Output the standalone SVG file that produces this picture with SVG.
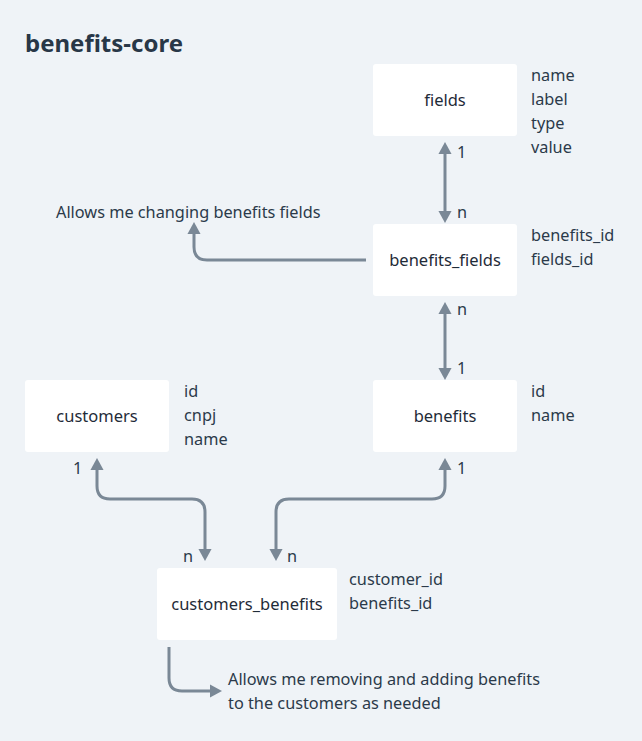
<svg xmlns="http://www.w3.org/2000/svg" width="642" height="741" viewBox="0 0 642 741">
<style>
.bg{fill:#eff3f7}
.box{fill:#ffffff}
.t{font-family:"Noto Sans","Open Sans",sans-serif;font-size:16.5px;fill:#1f2b38}
.c{text-anchor:middle}
.a{font-family:"Noto Sans","Open Sans",sans-serif;font-size:16.3px;fill:#2b3a4a}
.title{font-family:"Noto Sans","Open Sans",sans-serif;font-size:24px;font-weight:bold;fill:#283747}
.ln{fill:none;stroke:#7a8896;stroke-width:3}
</style>
<defs>
<marker id="ah" markerUnits="userSpaceOnUse" markerWidth="12" markerHeight="14" refX="0" refY="6" orient="auto-start-reverse" viewBox="0 0 11 12">
<path d="M0,0 L11,6 L0,12 z" fill="#7a8896"/>
</marker>
</defs>
<rect class="bg" x="0" y="0" width="642" height="741"/>
<text class="title" x="25" y="52">benefits-core</text>

<g id="fields">
<rect class="box" x="373" y="64" width="144" height="72" rx="3"/>
<text class="t c" x="445" y="106">fields</text>
<text class="a" x="531" y="81">name</text>
<text class="a" x="531" y="105">label</text>
<text class="a" x="531" y="129">type</text>
<text class="a" x="531" y="153">value</text>
</g>

<g id="benefits_fields">
<rect class="box" x="373" y="224" width="144" height="72" rx="3"/>
<text class="t c" x="445" y="266">benefits_fields</text>
<text class="a" x="531" y="241">benefits_id</text>
<text class="a" x="531" y="265">fields_id</text>
</g>

<g id="benefits">
<rect class="box" x="373" y="380" width="144" height="72" rx="3"/>
<text class="t c" x="445" y="422">benefits</text>
<text class="a" x="531" y="397">id</text>
<text class="a" x="531" y="421">name</text>
</g>

<g id="customers">
<rect class="box" x="25" y="380" width="144" height="72" rx="3"/>
<text class="t c" x="97" y="422">customers</text>
<text class="a" x="184" y="397">id</text>
<text class="a" x="184" y="421">cnpj</text>
<text class="a" x="184" y="445">name</text>
</g>

<g id="customers_benefits">
<rect class="box" x="157" y="568" width="180" height="72" rx="3"/>
<text class="t c" x="247" y="610">customers_benefits</text>
<text class="a" x="349" y="585">customer_id</text>
<text class="a" x="349" y="609">benefits_id</text>
</g>

<g id="notes">
<text class="a" x="56" y="218">Allows me changing benefits fields</text>
<text class="a" x="228" y="685">Allows me removing and adding benefits</text>
<text class="a" x="228" y="709">to the customers as needed</text>
</g>

<g id="connectors">
<path class="ln" d="M445,154 V211" marker-start="url(#ah)" marker-end="url(#ah)"/>
<path class="ln" d="M445,314 V368" marker-start="url(#ah)" marker-end="url(#ah)"/>
<path class="ln" d="M366,260 H207 Q194,260 194,247 V234" marker-end="url(#ah)"/>
<path class="ln" d="M97,470 V486 Q97,499 110,499 H192 Q205,499 205,512 V549" marker-start="url(#ah)" marker-end="url(#ah)"/>
<path class="ln" d="M445,470 V486 Q445,499 432,499 H289 Q276,499 276,512 V549" marker-start="url(#ah)" marker-end="url(#ah)"/>
<path class="ln" d="M169,647 V678 Q169,691 182,691 H210" marker-end="url(#ah)"/>
<text class="a" x="457" y="158">1</text>
<text class="a" x="457" y="218">n</text>
<text class="a" x="457" y="315">n</text>
<text class="a" x="457" y="374">1</text>
<text class="a" x="73" y="474">1</text>
<text class="a" x="457" y="474">1</text>
<text class="a" x="183" y="562">n</text>
<text class="a" x="287" y="562">n</text>
</g>
</svg>
